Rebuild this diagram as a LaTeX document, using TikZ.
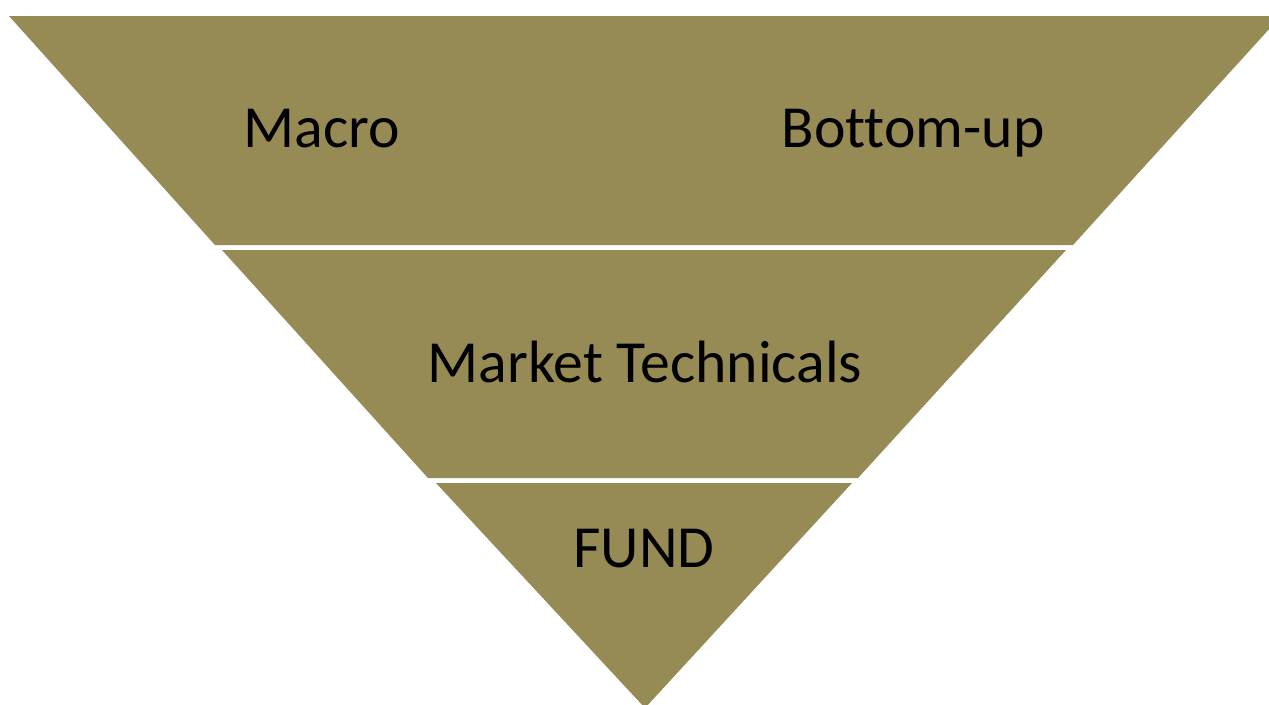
\documentclass[tikz,border=0pt]{standalone}
\usepackage{fontspec}
\setmainfont[Ligatures=NoCommon]{Carlito}
\definecolor{olive}{RGB}{151,139,85}
\begin{document}
\begin{tikzpicture}
[x=0.02cm,y=-0.02cm,band/.style={fill=olive,draw=none},
 lbl/.style={anchor=base,font=\fontsize{34}{40}\selectfont,text=black,inner sep=0pt}]
 \useasboundingbox (0,0) rectangle (1269,704);
 \clip (0,0) rectangle (1269,704);
 \fill[white] (0,0) rectangle (1269,704);
 % bands
 \path[band] (9,16) -- (1281,16) -- (1073,245) -- (215,245) -- cycle;
 \path[band] (222,250) -- (1066,250) -- (858,478) -- (428,478) -- cycle;
 \path[band] (436,483) -- (852,483) -- (645,708) -- cycle;
 % labels
 \node (macro) [lbl] at (322,147) {Macro};
 \node (bottom) [lbl] at (913,147) {Bottom-up};
 \node (market) [lbl] at (645,382) {Market Technicals};
 \node (fund) [lbl] at (644,567) {FUND};
\end{tikzpicture}
\end{document}
